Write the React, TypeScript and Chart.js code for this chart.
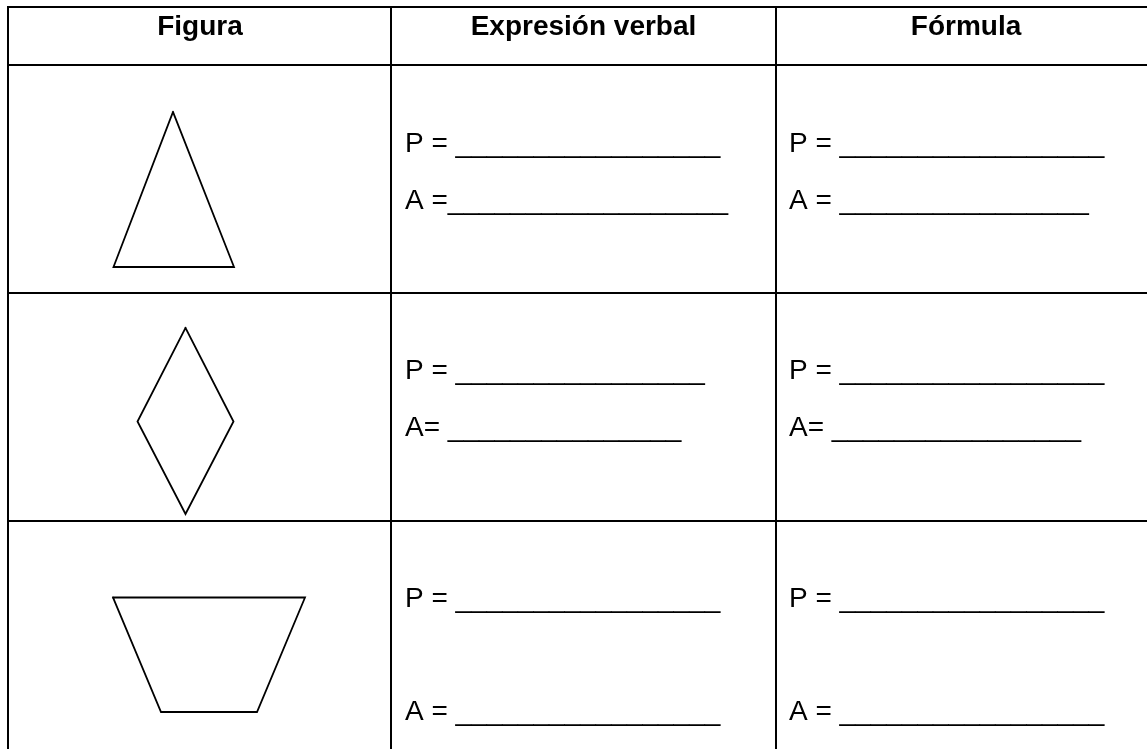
import React, { useEffect, useRef } from "react";
import { Chart, registerables } from "chart.js";

Chart.register(...registerables);

// ---- Data (page coordinates in px, y measured downward) ----
const headers = ["Figura", "Expresión verbal", "Fórmula"];
const headerCenters = [200, 583.5, 966];
const headerBaseline = 35;

const columnLines = [8, 391, 776];
const rowLines = [7, 65, 293, 521];

const triangle: [number, number][] = [[173, 112], [113.5, 267], [234, 267], [173, 112]];
const rhombus: [number, number][] = [[185.5, 328], [233.5, 421.5], [185.5, 514], [137.5, 421.5], [185.5, 328]];
const trapezoid: [number, number][] = [[113, 597.5], [305, 597.5], [257, 712], [161, 712], [113, 597.5]];

const verbalLines = [
  ["P = _________________", "A =__________________"],
  ["P = ________________", "A= _______________"],
  ["P = _________________", "A = _________________"],
];
const formulaLines = [
  ["P = _________________", "A = ________________"],
  ["P = _________________", "A= ________________"],
  ["P = _________________", "A = _________________"],
];
const textColumnsX = [405, 789];
const lineBaselines = [
  [151.5, 208.5],
  [378.5, 436],
  [606.5, 720],
];

const W = 1147;
const H = 749;

const toPts = (pts: [number, number][]) => pts.map(([x, y]) => ({ x, y }));

export default function App() {
  const ref = useRef<HTMLCanvasElement | null>(null);

  useEffect(() => {
    if (!ref.current) return;

    const tableSets: any[] = [];
    rowLines.forEach((y) => {
      tableSets.push({
        data: toPts([[columnLines[0], y], [W + 5, y]]),
        borderWidth: 2,
      });
    });
    columnLines.forEach((x) => {
      tableSets.push({
        data: toPts([[x, rowLines[0]], [x, H + 5]]),
        borderWidth: 2,
      });
    });
    const shapeSets = [triangle, rhombus, trapezoid].map((s) => ({
      data: toPts(s),
      borderWidth: 1.8,
    }));

    const datasets = [...tableSets, ...shapeSets].map((d) => ({
      ...d,
      showLine: true,
      borderColor: "#000",
      pointRadius: 0,
      borderCapStyle: "square",
      borderJoinStyle: "miter",
      tension: 0,
      clip: false,
    }));

    const textPlugin = {
      id: "tableText",
      afterDatasetsDraw(chart: any) {
        const { ctx, scales } = chart;
        const xs = scales.x;
        const ys = scales.y;
        ctx.save();
        ctx.fillStyle = "#000";
        ctx.textBaseline = "alphabetic";
        ctx.font = "bold 28px 'Liberation Sans', Arial, sans-serif";
        ctx.textAlign = "center";
        headers.forEach((h, i) => {
          ctx.fillText(h, xs.getPixelForValue(headerCenters[i]), ys.getPixelForValue(headerBaseline));
        });
        ctx.font = "28px 'Liberation Sans', Arial, sans-serif";
        ctx.textAlign = "left";
        [verbalLines, formulaLines].forEach((col, ci) => {
          col.forEach((rowTexts, ri) => {
            rowTexts.forEach((t, li) => {
              ctx.fillText(
                t,
                xs.getPixelForValue(textColumnsX[ci]),
                ys.getPixelForValue(lineBaselines[ri][li])
              );
            });
          });
        });
        ctx.restore();
      },
    };

    const chart = new Chart(ref.current, {
      type: "scatter",
      data: { datasets },
      options: {
        animation: false,
        responsive: false,
        devicePixelRatio: 1,
        events: [],
        layout: { padding: 0, autoPadding: false },
        plugins: { legend: { display: false }, tooltip: { enabled: false } },
        scales: {
          x: { type: "linear", min: 0, max: W, display: false },
          y: { type: "linear", min: 0, max: H, reverse: true, display: false },
        },
      } as any,
      plugins: [textPlugin],
    });

    return () => chart.destroy();
  }, []);

  return (
    <div style={{ position: "absolute", left: 0, top: 0, width: W, height: H, background: "#fff" }}>
      <canvas ref={ref} width={W} height={H} style={{ display: "block", width: W, height: H }} />
    </div>
  );
}
